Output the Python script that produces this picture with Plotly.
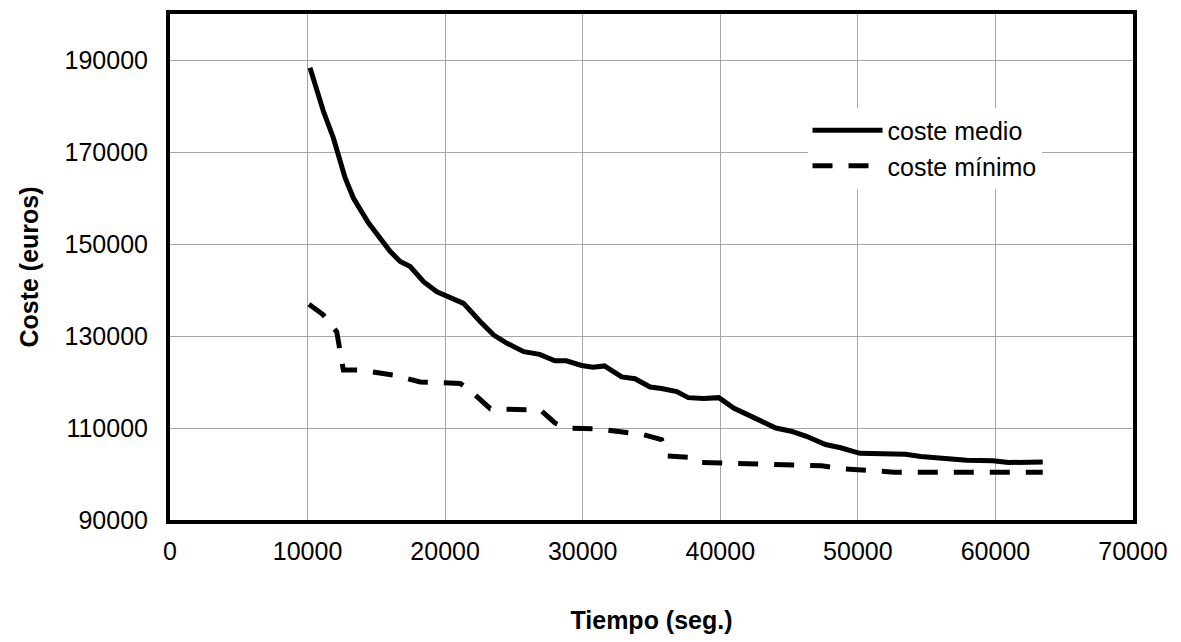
import plotly.graph_objects as go

# coste medio (solid)
medio_t = [10175, 11145, 11870, 12725, 13330, 14420, 16000, 16730, 17460, 18430,
           19400, 20130, 21340, 22560, 23530, 24500, 25710, 26870, 27980, 28810,
           29920, 30750, 31580, 32830, 33800, 34900, 35730, 36840, 37670, 38780,
           39890, 41000, 42660, 44040, 45150, 46260, 47650, 48750, 50140, 51800,
           53460, 54570, 55960, 57900, 59830, 60940, 63440]
medio_c = [188300, 178900, 173100, 164400, 160000, 154600, 148400, 146200, 145100, 141800,
           139600, 138600, 137100, 133100, 130200, 128400, 126600, 126000, 124600, 124600,
           123600, 123200, 123500, 121100, 120700, 118900, 118600, 117900, 116600, 116400,
           116600, 114300, 111800, 110000, 109300, 108200, 106400, 105700, 104500, 104500,
           104300, 103800, 103400, 103000, 102900, 102500, 102600]

# coste minimo (dashed)
minimo_t = [10100, 11140, 12120, 12360, 12600, 13820, 16240, 18190, 19400, 21100,
            21950, 23280, 26930, 27980, 28810, 31020, 34350, 35730, 36150, 37950,
            38500, 44040, 47370, 49030, 52630, 63440]
minimo_c = [136900, 134600, 130900, 127300, 122600, 122600, 121500, 120000, 119900, 119700,
            117800, 114200, 113900, 111100, 110000, 109800, 108600, 107500, 103900, 103600,
            102500, 102100, 101800, 101100, 100400, 100400]

x_ticks = [0, 10000, 20000, 30000, 40000, 50000, 60000, 70000]
y_ticks = [90000, 110000, 130000, 150000, 170000, 190000]

FONT = "Liberation Sans, Arial, sans-serif"

fig = go.Figure()
fig.add_trace(go.Scatter(x=medio_t, y=medio_c, mode="lines", name="coste medio",
                         line=dict(color="black", width=5)))
fig.add_trace(go.Scatter(x=minimo_t, y=minimo_c, mode="lines", name="coste mínimo",
                         line=dict(color="black", width=5, dash="20px,16px")))

fig.update_layout(
    width=1181, height=642,
    margin=dict(l=170, r=48, t=10, b=122),
    paper_bgcolor="white", plot_bgcolor="white",
    font=dict(family=FONT, size=25, color="black"),
    showlegend=True,
    legend=dict(x=0.662, y=0.815, xanchor="left", yanchor="top",
                bgcolor="white", borderwidth=0, itemwidth=70,
                tracegroupgap=0,
                font=dict(size=25)),
)
fig.update_xaxes(range=[0, 70000], tickvals=x_ticks, ticktext=[str(v) for v in x_ticks],
                 showgrid=True, gridcolor="#a6a6a6", gridwidth=1,
                 showline=True, linecolor="black", linewidth=4, mirror=True,
                 ticks="", ticklabelstandoff=6, zeroline=False,
                 title=dict(text="<b>Tiempo (seg.)</b>", standoff=48,
                            font=dict(size=25)))
fig.update_yaxes(range=[90000, 200000], tickvals=y_ticks, ticktext=[str(v) for v in y_ticks],
                 showgrid=True, gridcolor="#a6a6a6", gridwidth=1,
                 showline=True, linecolor="black", linewidth=4, mirror=True,
                 ticks="", ticklabelstandoff=13, zeroline=False,
                 title=dict(text="<b>Coste (euros)</b>", standoff=20,
                            font=dict(size=25)))

fig.write_html("out.html", config={"displayModeBar": False},
               post_script="document.body.style.margin='0';")
